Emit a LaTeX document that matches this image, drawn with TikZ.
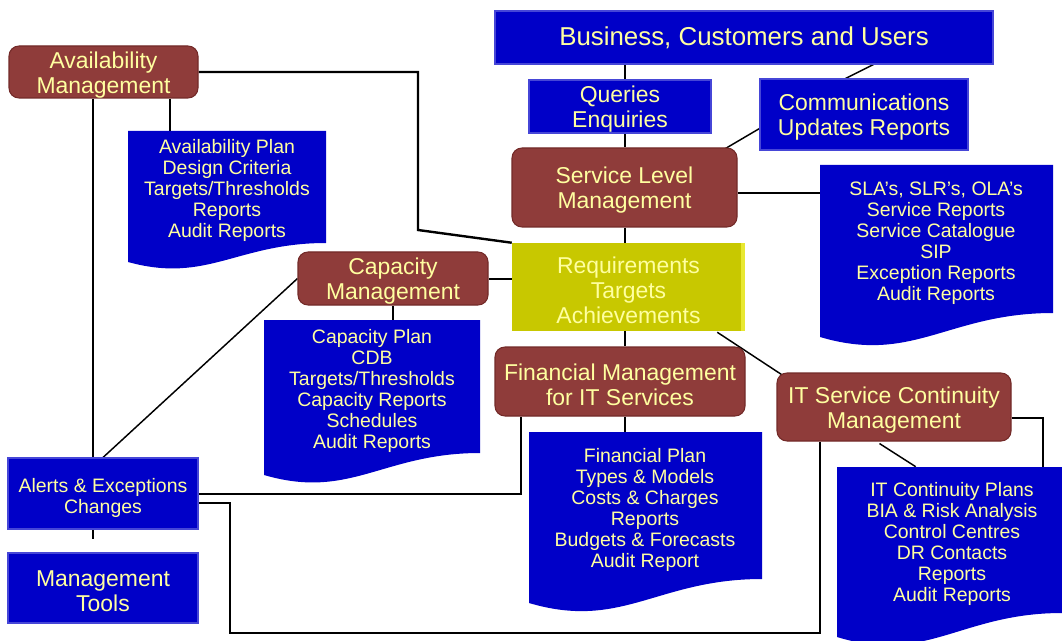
\documentclass[tikz,border=0pt]{standalone}
\usepackage{fontspec}
\setmainfont{Liberation Sans}
\usetikzlibrary{fit,calc,backgrounds}
\definecolor{bxblue}{RGB}{0,0,200}
\definecolor{blueedge}{RGB}{70,70,215}
\definecolor{bxbrown}{RGB}{143,60,58}
\definecolor{bxbrownedge}{RGB}{115,42,40}
\definecolor{txyellow}{RGB}{255,255,160}
\definecolor{reqfill}{RGB}{200,200,0}
\definecolor{reqedge}{RGB}{232,232,50}
\tikzset{
  bigtext/.style={font=\fontsize{17.2pt}{18.75pt}\selectfont, text=txyellow, align=center, yshift=-2.2pt},
  smalltext/.style={font=\fontsize{14.6pt}{15.75pt}\selectfont, text=txyellow, align=center},
  headtext/.style={font=\fontsize{19.4pt}{20pt}\selectfont, text=txyellow, align=center},
  bluebox/.style={fill=bxblue, draw=blueedge, line width=0.8pt, inner sep=0pt},
  brownbox/.style={fill=bxbrown, draw=bxbrownedge, line width=0.8pt, rounded corners=7.5pt, inner sep=0pt},
  reqbox/.style={fill=reqfill, inner sep=0pt},
  docframe/.style={inner sep=0pt},
  link/.style={draw=black, line width=1.8pt},
  thinlink/.style={draw=black, line width=1.1pt},
}
\newcommand\docfill[6]{% name, x1, y1, x2, yR, yL
  \node[docframe, fit={(#2,#3)(#4,#5)}] (#1) {};
  \fill[bxblue] (#2,#3) -- (#4,#3) -- (#4,#5) .. controls ({#4-0.45*(#4-#2)},#5) and ({#2+0.4*(#4-#2)},{#6+1.15*(#6-#5)}) .. (#2,#6) -- cycle;
}
\begin{document}
\begin{tikzpicture}[x=0.75pt,y=-0.75pt]
\useasboundingbox (0,0) rectangle (1062,641);

% documents
\docfill{avd}{128}{131}{326}{243}{262}
\docfill{slad}{820}{165}{1053}{313}{337}
\docfill{capd}{264}{320}{480}{453}{475}
\docfill{find}{529}{432}{762}{579}{603}
\docfill{itd}{837}{467}{1062}{613}{637}

% boxes
\node[brownbox, fit={(9,46)(198,98)}] (avm) {};
\node[bluebox, fit={(495,11)(993,64)}] (bcu) {};
\node[bluebox, fit={(529,80)(711,133)}] (qe) {};
\node[bluebox, fit={(760,79)(968,150)}] (cur) {};
\node[brownbox, fit={(512,148)(737,227)}] (slm) {};
\node[brownbox, fit={(298,252)(488,305)}] (cap) {};
\node[reqbox, fit={(512,243)(745,331)}] (req) {};
\fill[reqedge] ($(req.north east)+(-4,0)$) rectangle (req.south east);
\node[brownbox, fit={(495,347)(745,416)}] (fin) {};
\node[brownbox, fit={(777,373)(1011,441)}] (itscm) {};
\node[bluebox, fit={(8,458)(198,529)}] (alerts) {};
\node[bluebox, fit={(8,553)(198,623)}] (tools) {};

% box texts
\node[bigtext] (avmt) at (avm.center) {Availability\\Management};
\node[headtext] (bcut) at (bcu.center) {Business, Customers and Users};
\node[bigtext] (qet) at (qe.center) {Queries\\Enquiries};
\node[bigtext] (curt) at (cur.center) {Communications\\Updates Reports};
\node[bigtext] (slmt) at (slm.center) {Service Level\\Management};
\node[bigtext] (capt) at (cap.center) {Capacity\\Management};
\node[bigtext] (reqt) at (req.center) {Requirements\\Targets\\Achievements};
\node[bigtext] (fint) at (fin.center) {Financial Management\\for IT Services};
\node[bigtext] (itscmt) at (itscm.center) {IT Service Continuity\\Management};
\node[smalltext, yshift=-3pt] (alertst) at (alerts.center) {Alerts \& Exceptions\\Changes};
\node[bigtext] (toolst) at (tools.center) {Management\\Tools};

% document texts
\node[smalltext] (avdt) at (227,190) {Availability Plan\\Design Criteria\\Targets/Thresholds\\Reports\\Audit Reports};
\node[smalltext] (capdt) at (372,391) {Capacity Plan\\CDB\\Targets/Thresholds\\Capacity Reports\\Schedules\\Audit Reports};
\node[smalltext] (sladt) at (936,243) {SLA’s, SLR’s, OLA’s\\Service Reports\\Service Catalogue\\SIP\\Exception Reports\\Audit Reports};
\node[smalltext] (findt) at (645,510) {Financial Plan\\Types \& Models\\Costs \& Charges\\Reports\\Budgets \& Forecasts\\Audit Report};
\node[smalltext] (itdt) at (952,544) {IT Continuity Plans\\BIA \& Risk Analysis\\Control Centres\\DR Contacts\\Reports\\Audit Reports};

% helper coordinates
\coordinate (colA) at (93,0);
\coordinate (colB) at (170,0);
\coordinate (colC) at (625,0);
\coordinate (colD) at (393,0);
\coordinate (colE) at (521,0);
\coordinate (colF) at (230,0);
\coordinate (colG) at (820,0);
\coordinate (colH) at (1043,0);
\coordinate (rowA) at (0,193);
\coordinate (rowB) at (0,279);
\coordinate (rowC) at (0,494);
\coordinate (rowD) at (0,503);
\coordinate (rowE) at (0,633);
\coordinate (rowF) at (0,418);
\coordinate (bend1) at (418,230);
\coordinate (stubA) at (93,539);

\begin{pgfonlayer}{background}
\fill[white] (0,0) rectangle (1062,641);
\draw[link] (avm.east) -| (bend1) -- (req.north west);
\draw[link] (avm.south -| colA) -- (stubA);
\draw[link] (avm.south -| colB) -- (avd.north -| colB);
\draw[link] (bcu.south -| colC) -- (qe.north -| colC);
\draw[link] (qe.south -| colC) -- (slm.north -| colC);
\draw[link] (slm.south -| colC) -- (req.north -| colC);
\draw[thinlink] ($(bcu.south west)+(379,0)$) -- ($(cur.north west)+(86,0)$);
\draw[thinlink] ($(cur.south west)+(0,-22)$) -- ($(slm.north east)+(-12,1)$);
\draw[link] (slm.east |- rowA) -- (slad.west |- rowA);
\draw[link] (cap.east |- rowB) -- (req.west |- rowB);
\draw[link] (cap.south -| colD) -- (capd.north -| colD);
\draw[thinlink] (cap.west) -- (alerts.north);
\draw[link] (req.south -| colC) -- (fin.north -| colC);
\draw[thinlink] ($(req.south east)+(-28,1)$) -- ($(itscm.north west)+(8,4)$);
\draw[link] (fin.south -| colC) -- (find.north -| colC);
\draw[link] (fin.south -| colE) |- (alerts.east |- rowC);
\draw[link] (alerts.east |- rowD) -| (colF |- rowE) -| (itscm.south -| colG);
\draw[thinlink] ($(itscm.south west)+(103,2)$) -- ($(itd.north west)+(79,0)$);
\draw[link] (itscm.east |- rowF) -| (itd.north -| colH);
\end{pgfonlayer}
\end{tikzpicture}
\end{document}
